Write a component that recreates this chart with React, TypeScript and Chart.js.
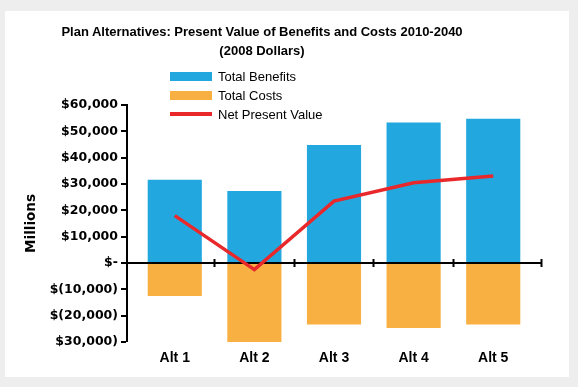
import React, { useEffect, useRef } from 'react';
import { Chart, registerables } from 'chart.js';

Chart.register(...registerables);

// ---- data ----
const categories = ['Alt 1', 'Alt 2', 'Alt 3', 'Alt 4', 'Alt 5'];
const totalBenefits = [31600, 27300, 44800, 53400, 54800];
const totalCosts = [-12500, -30000, -23400, -24700, -23400];
const netPresentValue = [18000, -2500, 23500, 30500, 33000];
const yTickValues = [-30000, -20000, -10000, 0, 10000, 20000, 30000, 40000, 50000, 60000];
const yTickLabels = ['$30,000)', '$(20,000)', '$(10,000)', '$-', '$10,000', '$20,000', '$30,000', '$40,000', '$50,000', '$60,000'];
const titleLines = ['Plan Alternatives: Present Value of Benefits and Costs 2010-2040', '(2008 Dollars)'];
const seriesNames = ['Total Benefits', 'Total Costs', 'Net Present Value'];
const yAxisTitle = 'Millions';

// ---- styles / layout ----
const seriesColors = ['#22a8df', '#f9b043', '#e8282b'];
const W = 578;
const H = 387;
const PLOT_LEFT = 127;
const PLOT_RIGHT = 541;
const PLOT_TOP = 105;
const PLOT_BOTTOM = 342;
const PAD_LEFT = 23;
const X_MIN = 0.4;
const X_MAX = categories.length + 0.6;
const SANS = "'Liberation Sans', Arial, sans-serif";
const DEJAVU = "'DejaVu Sans', sans-serif";

export default function App() {
  const ref = useRef<HTMLCanvasElement | null>(null);

  useEffect(() => {
    if (!ref.current) return;
    const xs = categories.map((_, i) => i + 1);
    const boundaryTicks = [...categories.slice(1).map((_, i) => i + 1.5), X_MAX];

    const tickAxis = (len: number) => ({
      type: 'linear' as const,
      axis: 'x' as const,
      position: { y: 0 },
      min: X_MIN,
      max: X_MAX,
      offset: false,
      z: 2,
      afterBuildTicks: (s: any) => {
        s.ticks = boundaryTicks.map((v) => ({ value: v }));
      },
      afterFit: (s: any) => {
        s.height = 0;
      },
      ticks: { display: false },
      border: { display: false },
      grid: {
        offset: false,
        drawOnChartArea: false,
        drawTicks: true,
        tickLength: len,
        tickWidth: 2,
        tickColor: '#000',
      },
    });

    const chart = new Chart(ref.current, {
      type: 'bar',
      data: {
        datasets: [
          {
            type: 'line',
            label: seriesNames[2],
            data: xs.map((x, i) => ({ x, y: netPresentValue[i] })),
            borderColor: seriesColors[2],
            backgroundColor: seriesColors[2],
            borderWidth: 3.5,
            pointRadius: 0,
            tension: 0,
            borderJoinStyle: 'miter',
            order: 0,
          } as any,
          {
            type: 'bar',
            label: seriesNames[0],
            data: xs.map((x, i) => ({ x, y: totalBenefits[i] })),
            backgroundColor: seriesColors[0],
            grouped: false,
            barPercentage: 0.68,
            categoryPercentage: 1,
            order: 1,
          } as any,
          {
            type: 'bar',
            label: seriesNames[1],
            data: xs.map((x, i) => ({ x, y: totalCosts[i] })),
            backgroundColor: seriesColors[1],
            grouped: false,
            barPercentage: 0.68,
            categoryPercentage: 1,
            order: 1,
          } as any,
        ],
      },
      options: {
        responsive: false,
        animation: false,
        layout: {
          padding: { left: PAD_LEFT, top: PLOT_TOP, right: W - PLOT_RIGHT, bottom: 0 },
        },
        plugins: {
          legend: { display: false },
          title: { display: false },
          tooltip: { enabled: false },
        },
        scales: {
          x: {
            type: 'linear',
            position: 'bottom',
            min: X_MIN,
            max: X_MAX,
            offset: false,
            afterBuildTicks: (s: any) => {
              s.ticks = xs.map((v) => ({ value: v }));
            },
            afterFit: (s: any) => {
              s.height = H - PLOT_BOTTOM;
            },
            ticks: {
              autoSkip: false,
              maxRotation: 0,
              padding: 8,
              color: '#000',
              font: { family: SANS, size: 14, weight: 'bold' },
              callback: (_v: any, i: number) => categories[i],
            },
            grid: { display: false, drawTicks: false, offset: false },
            border: { display: false },
          },
          xz1: tickAxis(4) as any,
          xz2: tickAxis(-4) as any,
          y: {
            type: 'linear',
            position: 'left',
            min: yTickValues[0],
            max: yTickValues[yTickValues.length - 1],
            z: 1,
            afterBuildTicks: (s: any) => {
              s.ticks = yTickValues.map((v) => ({ value: v }));
            },
            afterFit: (s: any) => {
              s.width = PLOT_LEFT - PAD_LEFT;
            },
            ticks: {
              padding: 3,
              color: '#000',
              font: { family: DEJAVU, size: 12.5, weight: 'bold' },
              callback: (_v: any, i: number) => yTickLabels[i],
            },
            grid: {
              drawOnChartArea: true,
              color: (ctx: any) => (ctx.tick && ctx.tick.value === 0 ? '#000' : 'rgba(0,0,0,0)'),
              lineWidth: (ctx: any) => (ctx.tick && ctx.tick.value === 0 ? 2 : 0),
              tickLength: 6,
              tickWidth: 2,
              tickColor: '#000',
            },
            border: { display: true, color: '#000', width: 2 },
            title: {
              display: true,
              text: yAxisTitle,
              color: '#000',
              padding: 0,
              font: { family: DEJAVU, size: 13.5, weight: 'bold' },
            },
          },
        },
      } as any,
    });
    return () => chart.destroy();
  }, []);

  return (
    <div style={{ position: 'fixed', left: 0, top: 0, width: W, height: H, background: '#efeeee', overflow: 'hidden' }}>
      <div style={{ position: 'absolute', left: 5, top: 11, width: 564, height: 366, background: '#ffffff' }} />
      <canvas
        ref={ref}
        width={W}
        height={H}
        style={{ position: 'absolute', left: 0, top: 0, width: W, height: H }}
      />
      <div
        style={{
          position: 'absolute',
          left: 0,
          top: 21.5,
          width: 524,
          textAlign: 'center',
          fontFamily: SANS,
          fontWeight: 'bold',
          fontSize: 13,
          lineHeight: '19px',
          color: '#000',
          whiteSpace: 'nowrap',
        }}
      >
        {titleLines.map((t) => (
          <div key={t}>{t}</div>
        ))}
      </div>
      <div style={{ position: 'absolute', left: 170, top: 66.5 }}>
        {seriesNames.map((name, i) => (
          <div key={name} style={{ display: 'flex', alignItems: 'center', height: 19 }}>
            <div
              style={{
                width: 42,
                height: i === 2 ? 4 : 9,
                background: seriesColors[i],
                marginRight: 6,
              }}
            />
            <div
              style={{
                fontFamily: SANS,
                fontSize: 13,
                lineHeight: '19px',
                color: '#000',
                whiteSpace: 'nowrap',
              }}
            >
              {name}
            </div>
          </div>
        ))}
      </div>
    </div>
  );
}
